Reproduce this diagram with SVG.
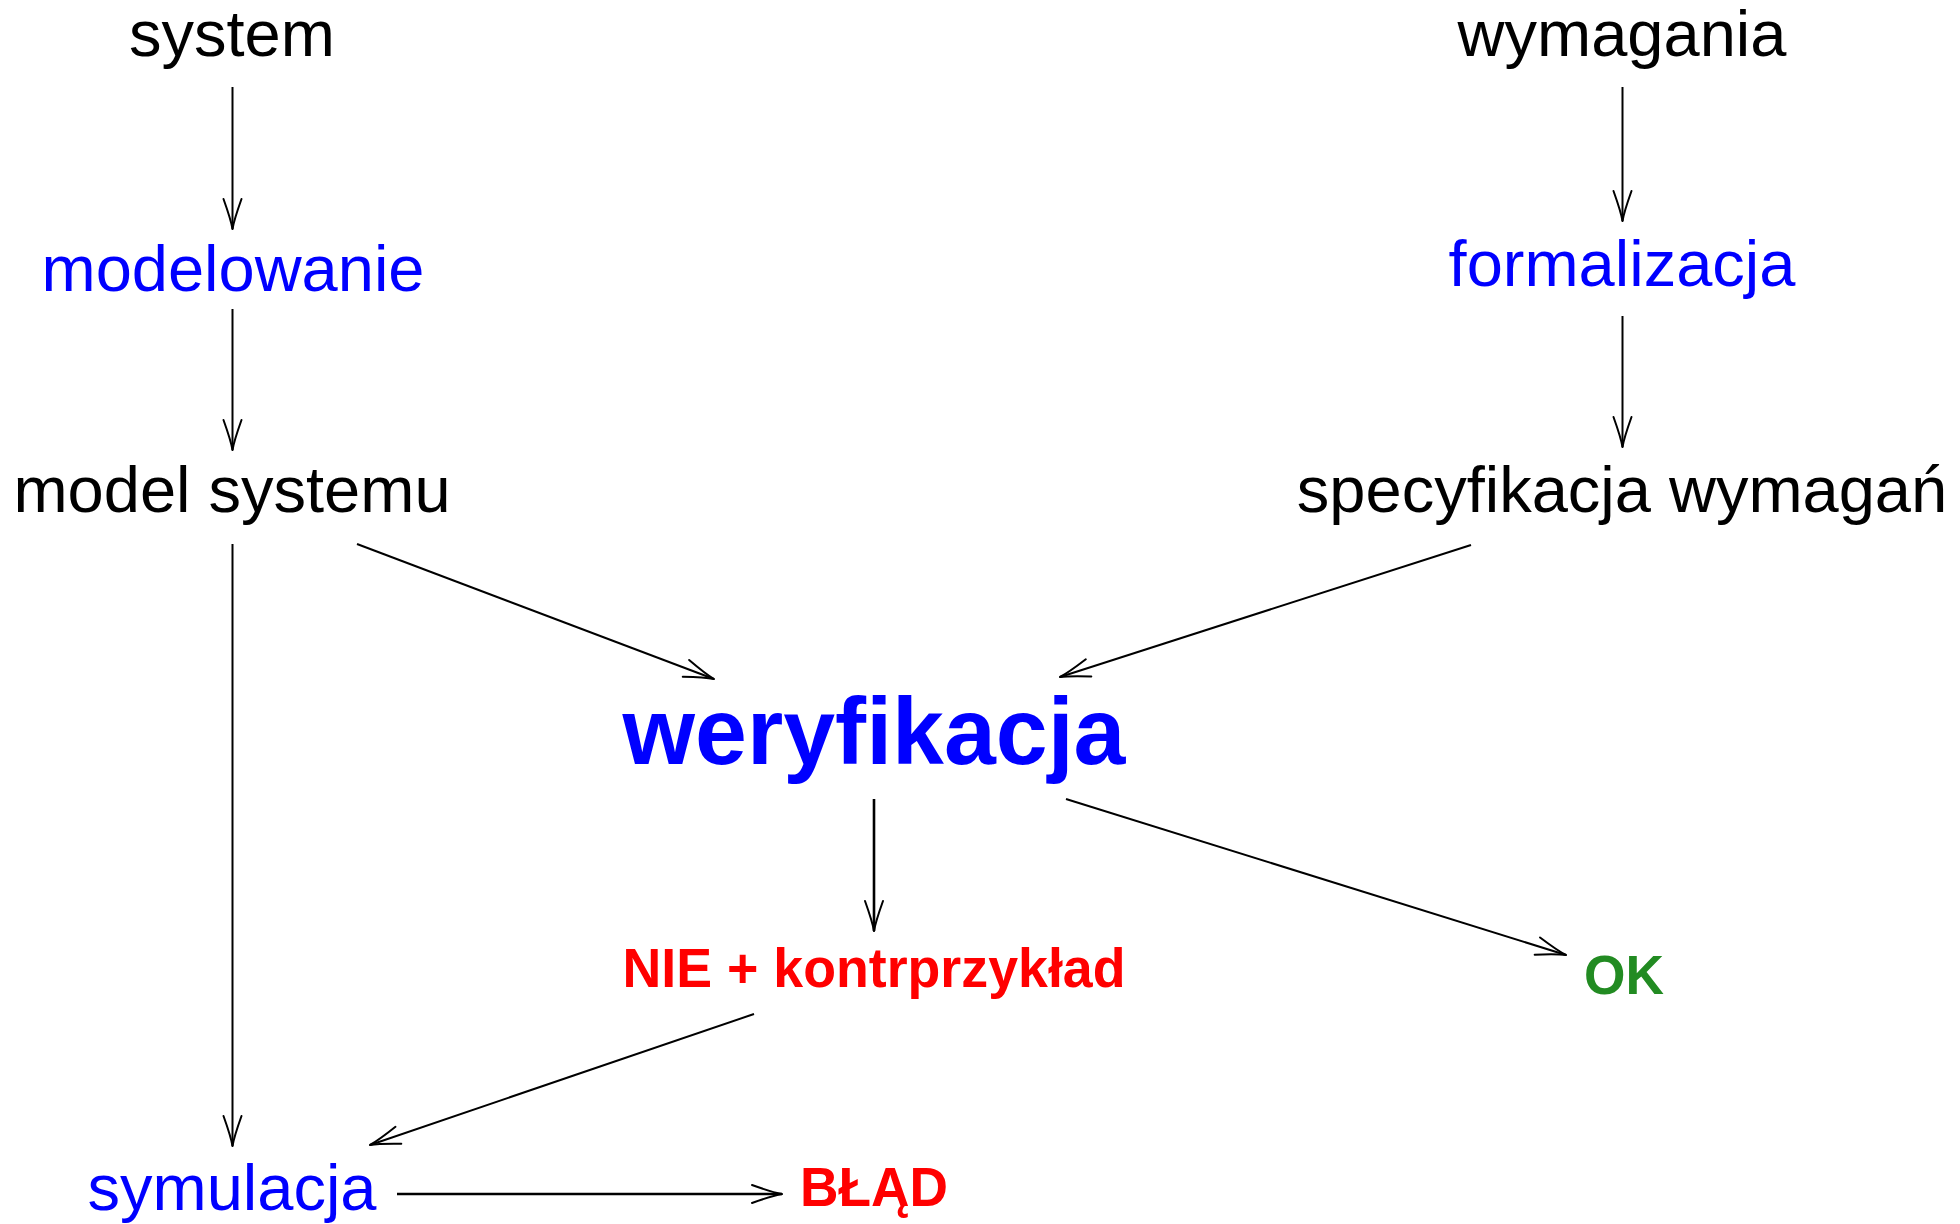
<svg xmlns="http://www.w3.org/2000/svg" width="1960" height="1224" viewBox="0 0 1960 1224">
  <style>
    .lbl { font-family: "Liberation Sans", Arial, Helvetica, sans-serif; text-anchor: middle; }
    .plain { font-size: 65px; }
    .black { fill: #000000; }
    .blue { fill: #0000ff; }
    .red { fill: #ff0000; font-weight: bold; font-size: 56px; }
    .green { fill: #228b22; font-weight: bold; font-size: 56px; }
    .big { fill: #0000ff; font-weight: bold; font-size: 95px; }
    .edge { stroke: #000000; stroke-width: 2; fill: none; marker-end: url(#arrow); }
    .thick { stroke-width: 2.6; }
  </style>
  <defs>
    <marker id="arrow" markerUnits="userSpaceOnUse" viewBox="-34 -13 40 26" markerWidth="40" markerHeight="26" refX="0" refY="0" orient="auto" overflow="visible">
      <path d="M -30 -9 Q -9 -1.5 0 0 M -30 9 Q -9 1.5 0 0" stroke="#000000" stroke-width="2" fill="none" stroke-linecap="round"/>
    </marker>
  </defs>

  <rect x="0" y="0" width="1960" height="1224" fill="#ffffff"/>

  <!-- connectors -->
  <g id="connectors">
    <line class="edge" x1="232.5" y1="87" x2="232.5" y2="229"/>
    <line class="edge" x1="232.5" y1="309" x2="232.5" y2="450"/>
    <line class="edge" x1="1622.5" y1="87" x2="1622.5" y2="221"/>
    <line class="edge" x1="1622.5" y1="316" x2="1622.5" y2="447"/>
    <line class="edge" x1="357" y1="544" x2="714" y2="679"/>
    <line class="edge" x1="1471" y1="545" x2="1060" y2="677"/>
    <line class="edge thick" x1="874" y1="799" x2="874" y2="931"/>
    <line class="edge" x1="1066" y1="799" x2="1566" y2="955"/>
    <line class="edge" x1="754" y1="1014" x2="370" y2="1145"/>
    <line class="edge" x1="232.5" y1="544" x2="232.5" y2="1146"/>
    <line class="edge thick" x1="397" y1="1194" x2="782" y2="1194"/>
  </g>

  <!-- nodes -->
  <g id="system"><text class="lbl plain black" x="232" y="56">system</text></g>
  <g id="wymagania"><text class="lbl plain black" x="1622" y="56">wymagania</text></g>
  <g id="modelowanie"><text class="lbl plain blue" x="233" y="291">modelowanie</text></g>
  <g id="formalizacja"><text class="lbl plain blue" x="1622" y="286">formalizacja</text></g>
  <g id="model-systemu"><text class="lbl plain black" x="232" y="512">model systemu</text></g>
  <g id="specyfikacja"><text class="lbl plain black" x="1622" y="512">specyfikacja wymagań</text></g>
  <g id="weryfikacja"><text class="lbl big" x="874" y="764" textLength="503" lengthAdjust="spacingAndGlyphs">weryfikacja</text></g>
  <g id="kontrprzyklad"><text class="lbl red" x="874" y="987" textLength="503" lengthAdjust="spacingAndGlyphs">NIE + kontrprzykład</text></g>
  <g id="ok"><text class="lbl green" x="1624" y="994" textLength="80" lengthAdjust="spacingAndGlyphs">OK</text></g>
  <g id="symulacja"><text class="lbl plain blue" x="232" y="1210">symulacja</text></g>
  <g id="blad"><text class="lbl red" x="874" y="1206" textLength="148" lengthAdjust="spacingAndGlyphs">BŁĄD</text></g>
</svg>
